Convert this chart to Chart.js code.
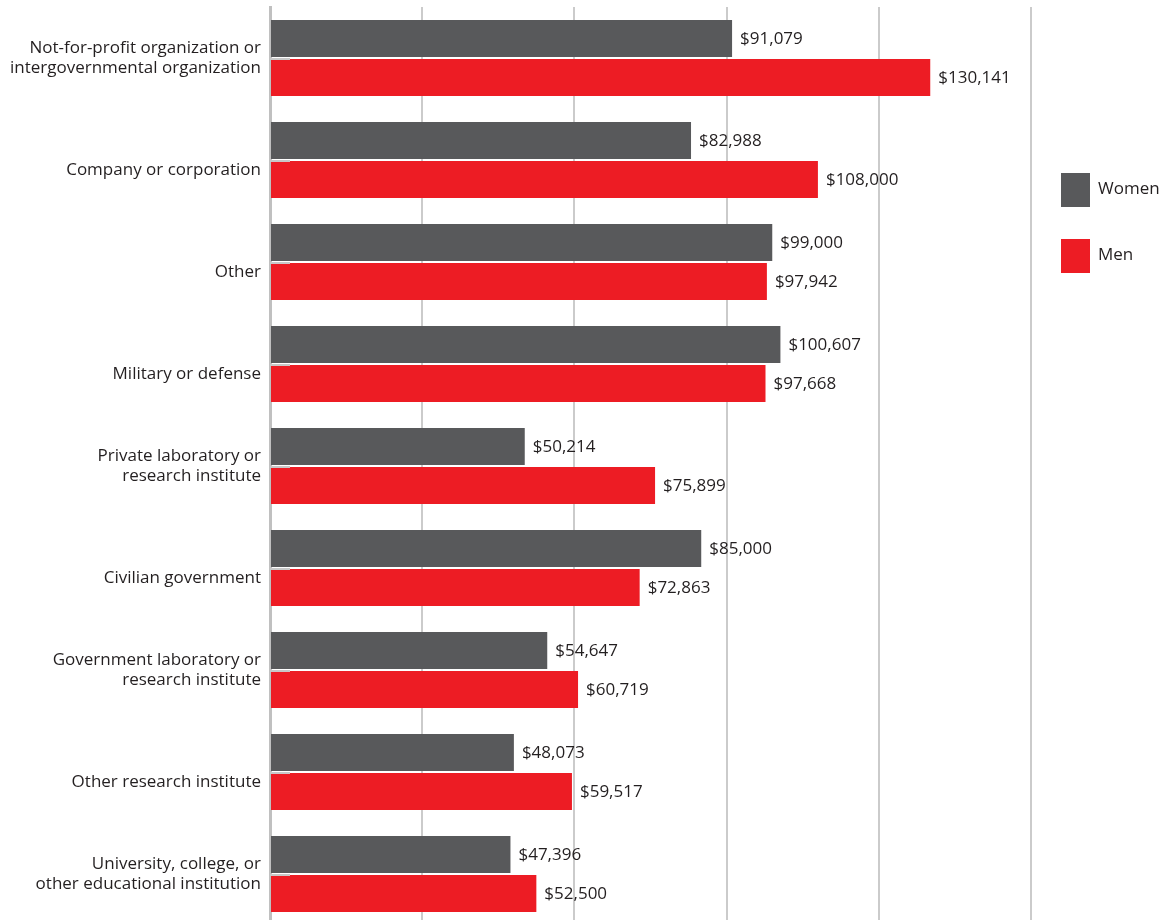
<!DOCTYPE html>
<html>
<head>
<meta charset="utf-8">
<script src="https://cdn.jsdelivr.net/npm/chart.js@4.4.1/dist/chart.umd.min.js"></script>
<style>
  html, body { margin: 0; padding: 0; background: #fff; overflow: hidden; }
  #wrap { width: 1175px; height: 930px; position: relative; }
</style>
</head>
<body>
<div id="wrap"><canvas id="salary-chart"></canvas></div>
<script>
var categories = [
  ['Not-for-profit organization or', 'intergovernmental organization'],
  'Company or corporation',
  'Other',
  'Military or defense',
  ['Private laboratory or', 'research institute'],
  'Civilian government',
  ['Government laboratory or', 'research institute'],
  'Other research institute',
  ['University, college, or', 'other educational institution']
];
var women = [91079, 82988, 99000, 100607, 50214, 85000, 54647, 48073, 47396];
var men = [130141, 108000, 97942, 97668, 75899, 72863, 60719, 59517, 52500];
var seriesNames = ['Women', 'Men'];
var xTicks = [0, 30000, 60000, 90000, 120000, 150000];

var FONT = '"Open Sans", "Liberation Sans", sans-serif';
var TEXT = '#231f20';

function money(v) {
  return '$' + v.toLocaleString('en-US');
}

// value labels at the end of each bar, plus the little notch on the axis
var barLabels = {
  id: 'barLabels',
  afterDatasetsDraw: function(chart) {
    var ctx = chart.ctx;
    ctx.save();
    ctx.font = '17px ' + FONT;
    ctx.fillStyle = TEXT;
    ctx.textBaseline = 'middle';
    ctx.textAlign = 'left';
    chart.data.datasets.forEach(function(ds, i) {
      chart.getDatasetMeta(i).data.forEach(function(bar, j) {
        ctx.fillText(money(ds.data[j]), bar.x + 8, bar.y + 1);
      });
    });
    var y = chart.scales.y;
    ctx.strokeStyle = '#c8c8c8';
    ctx.lineWidth = 2;
    categories.forEach(function(c, j) {
      var py = Math.round(y.getPixelForValue(j)) + 1;
      ctx.beginPath();
      ctx.moveTo(y.right, py);
      ctx.lineTo(y.right + 20, py);
      ctx.stroke();
    });
    ctx.restore();
  }
};

// legend on the right side
var sideLegend = {
  id: 'sideLegend',
  afterDraw: function(chart) {
    var ctx = chart.ctx;
    ctx.save();
    ctx.font = '17px ' + FONT;
    ctx.textBaseline = 'middle';
    chart.data.datasets.forEach(function(ds, i) {
      var top = 173 + i * 66;
      ctx.fillStyle = ds.backgroundColor;
      ctx.fillRect(1061, top, 29, 34);
      ctx.fillStyle = TEXT;
      ctx.fillText(ds.label, 1098, top + 16);
    });
    ctx.restore();
  }
};

new Chart(document.getElementById('salary-chart'), {
  type: 'bar',
  data: {
    labels: categories,
    datasets: [
      { label: seriesNames[0], data: women, backgroundColor: '#58595b' },
      { label: seriesNames[1], data: men, backgroundColor: '#ed1c24' }
    ]
  },
  options: {
    indexAxis: 'y',
    responsive: true,
    maintainAspectRatio: false,
    animation: false,
    categoryPercentage: 0.765,
    barPercentage: 0.95,
    layout: { padding: { top: 7, right: 144, bottom: 5, left: 0 } },
    plugins: {
      legend: { display: false },
      tooltip: { enabled: false }
    },
    scales: {
      x: {
        min: 0,
        max: 150000,
        afterBuildTicks: function(s) {
          s.ticks = xTicks.map(function(v) { return { value: v }; });
        },
        afterFit: function(s) {
          s.height = 0;
          s.paddingLeft = 0;
          s.paddingRight = 0;
        },
        ticks: { display: false },
        border: { display: false },
        grid: { color: '#cbcbcb', lineWidth: 2, drawTicks: false }
      },
      y: {
        afterFit: function(s) {
          s.width = 270;
          s.paddingTop = 0;
          s.paddingBottom = 0;
        },
        ticks: {
          color: TEXT,
          font: { family: FONT, size: 17, lineHeight: 1.2 },
          padding: 9,
          crossAlign: 'near',
          // one-line names sit on the second line slot, level with the red bar
          callback: function(v, i) {
            var name = categories[i];
            return Array.isArray(name) ? name : ['', name];
          }
        },
        border: { color: '#c0c0c0', width: 3 },
        grid: { display: false, drawTicks: false }
      }
    }
  },
  plugins: [barLabels, sideLegend]
});
</script>
</body>
</html>
